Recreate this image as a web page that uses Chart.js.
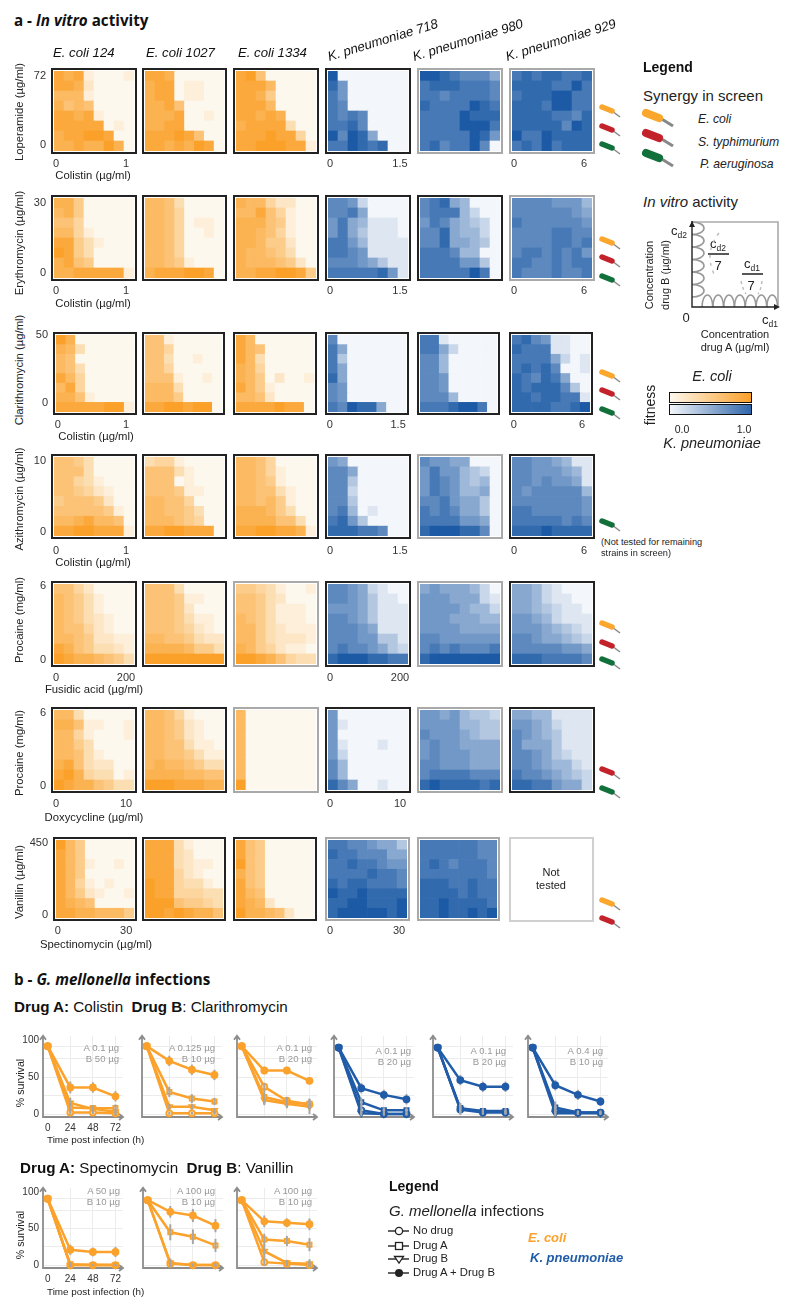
<!DOCTYPE html>
<html>
<head>
<meta charset="utf-8">
<title>In vitro activity and G. mellonella infections</title>
<script src="https://cdn.jsdelivr.net/npm/chart.js@4/dist/chart.umd.min.js"></script>
<style>
html, body { margin: 0; padding: 0; background: #fff; }
#page { position: relative; width: 800px; height: 1311px; overflow: hidden; font-family: "Liberation Sans", Arial, sans-serif; color: #222; }
#page canvas { position: absolute; }
#page svg { position: absolute; left: 0; top: 0; }
.t { position: absolute; white-space: nowrap; line-height: 1; }
sub { font-size: 8.5px; line-height: 0; }
</style>
</head>
<body>
<div id="page"></div>
<script>
// fitness x 10, top row of every grid first, columns left to right
const lopEc124 = [[9,8,9,1,0,0,0,1],[9,9,8,2,0,0,0,0],[7,7,7,1,0,0,0,0],[8,6,7,6,0,0,0,0],[9,9,8,9,1,0,0,0],[9,9,9,9,9,0,1,0],[8,9,9,10,10,9,0,0],[8,8,9,8,8,10,8,0]];
const lopEc1027 = [[9,9,8,0,0,0,0,0],[8,9,9,0,1,1,0,0],[8,9,9,0,1,1,0,0],[8,8,9,6,0,0,0,0],[8,8,8,9,0,0,1,0],[8,8,9,9,0,0,0,0],[9,9,9,10,9,6,0,0],[9,9,8,9,8,10,9,0]];
const lopEc1334 = [[9,10,6,0,0,0,0,0],[9,9,9,7,0,0,0,0],[9,9,8,5,0,0,0,0],[9,9,9,7,0,0,0,0],[9,9,8,9,8,0,0,0],[8,9,9,9,9,3,0,0],[9,9,9,10,9,9,4,0],[9,9,10,10,10,9,9,1]];
const lopKp718 = [[10,0,0,0,0,0,0,0],[9,6,0,0,0,0,0,0],[8,6,0,0,0,0,0,0],[8,7,0,0,0,0,0,0],[8,7,8,7,0,0,0,0],[8,8,9,7,0,0,0,0],[10,7,10,9,5,0,0,0],[8,8,10,9,8,9,0,0]];
const lopKp980 = [[10,10,9,8,7,7,7,5],[8,9,9,9,8,8,8,7],[8,8,7,8,8,8,8,7],[9,8,8,8,8,10,9,8],[8,8,8,8,10,9,9,9],[8,8,8,8,10,10,10,8],[8,8,8,8,8,10,9,6],[8,9,7,8,8,10,7,0]];
const lopKp929 = [[8,9,8,9,9,8,8,9],[9,9,9,9,8,8,10,8],[8,9,9,9,10,10,8,8],[9,9,9,8,10,10,8,8],[9,9,9,9,8,8,7,9],[9,9,9,9,9,7,10,9],[10,8,8,10,9,9,9,9],[8,9,8,10,8,9,9,9]];

const eryEc124 = [[8,8,5,0,0,0,0,0],[7,8,5,0,0,0,0,0],[6,6,4,0,0,0,0,0],[7,7,4,1,0,0,0,0],[9,9,5,3,1,0,0,0],[10,9,5,3,0,0,0,0],[8,9,6,5,0,0,0,0],[8,8,9,9,9,9,9,1]];
const eryEc1027 = [[7,7,6,3,0,0,0,0],[7,7,6,4,0,0,0,0],[7,7,6,4,0,1,1,0],[7,7,6,4,0,0,1,0],[7,7,6,4,0,0,0,0],[7,7,6,4,0,0,0,0],[7,7,6,5,1,0,0,0],[8,9,9,9,10,10,9,0]];
const eryEc1334 = [[8,7,7,4,2,2,0,0],[7,7,9,6,4,1,0,0],[8,8,8,6,5,1,0,0],[8,8,7,6,4,1,0,0],[8,8,7,5,5,2,0,0],[8,7,7,6,5,3,0,0],[8,7,7,7,6,5,2,0],[8,8,9,9,10,10,9,5]];
const eryKp718 = [[7,7,6,2,0,0,0,0],[7,7,8,5,0,0,0,0],[6,8,5,4,1,1,1,0],[6,8,5,3,1,1,1,0],[8,8,6,4,1,1,1,1],[8,8,7,6,1,1,1,1],[7,7,7,6,5,3,1,1],[8,8,8,8,8,9,6,1]];
const eryKp980 = [[7,8,9,5,4,0,0,0],[7,8,8,8,4,2,0,0],[6,8,7,5,4,3,2,0],[7,7,9,5,4,4,2,0],[7,7,9,5,5,4,3,0],[8,8,8,7,4,4,0,0],[8,8,8,8,6,6,3,0],[8,8,8,8,8,10,8,0]];
const eryKp929 = [[7,7,7,7,6,6,6,4],[7,7,7,7,7,7,6,5],[8,7,7,7,7,7,7,6],[7,7,7,7,8,8,7,7],[7,7,7,7,8,8,7,8],[7,8,8,7,8,7,8,6],[8,8,7,7,8,7,8,8],[8,7,7,7,8,7,7,8]];

const claEc124 = [[10,8,0,0,0,0,0,0],[8,7,3,0,0,0,0,0],[7,6,0,0,0,0,0,0],[7,6,3,0,0,0,0,0],[9,7,4,0,0,0,0,0],[7,9,4,0,0,0,0,0],[8,8,6,1,0,0,0,0],[9,9,9,9,9,10,10,1]];
const claEc1027 = [[6,6,1,0,0,0,0,0],[6,6,4,0,0,0,0,0],[6,6,3,0,0,1,0,0],[6,6,4,0,0,0,0,0],[6,6,6,1,0,0,1,0],[7,7,7,3,0,0,0,0],[7,7,7,5,0,0,0,0],[9,9,10,10,9,10,10,0]];
const claEc1334 = [[9,7,0,0,0,0,0,0],[9,7,6,0,0,0,0,0],[9,7,3,0,0,0,0,0],[8,7,4,0,0,0,0,0],[8,7,5,0,2,0,0,1],[9,7,5,1,0,0,0,0],[7,7,6,2,0,0,0,0],[9,9,9,9,10,9,9,0]];
const claKp718 = [[7,0,0,0,0,0,0,0],[8,5,0,0,0,0,0,0],[8,3,0,0,0,0,0,0],[8,5,0,0,0,0,0,0],[9,5,0,0,0,0,0,0],[7,6,0,0,0,0,0,0],[7,6,0,0,0,0,0,0],[8,7,10,9,9,5,0,0]];
const claKp980 = [[8,8,1,0,0,0,0,0],[8,8,5,2,0,0,0,0],[7,7,4,0,0,0,0,0],[7,7,4,0,0,0,0,0],[7,7,6,0,0,0,0,0],[7,7,6,0,0,0,0,0],[7,7,7,4,0,0,0,0],[8,8,8,9,10,10,8,0]];
const claKp929 = [[8,9,7,6,1,1,0,0],[9,8,8,8,1,1,0,0],[8,8,8,8,5,2,0,1],[8,9,8,9,7,0,0,1],[9,8,7,9,8,5,0,0],[9,8,9,9,9,7,3,0],[9,9,8,9,9,8,8,1],[9,9,9,9,8,8,9,10]];

const aziEc124 = [[6,6,5,3,0,0,0,0],[6,6,6,3,0,0,0,0],[6,6,4,3,1,0,0,0],[6,6,5,4,2,1,0,0],[5,6,6,6,5,2,0,0],[6,6,6,6,6,5,1,0],[7,7,8,9,7,7,6,0],[9,9,10,10,9,9,9,1]];
const aziEc1027 = [[3,4,4,1,0,0,0,0],[6,6,6,3,1,0,0,0],[6,6,6,0,1,0,0,0],[6,6,6,5,1,1,0,0],[7,7,6,6,4,0,0,0],[7,7,6,6,5,3,0,0],[7,7,7,6,5,4,0,0],[9,9,10,10,9,9,9,0]];
const aziEc1334 = [[7,7,6,4,0,0,0,0],[7,7,6,4,1,0,0,0],[7,7,6,5,1,0,0,0],[7,7,6,6,3,1,0,0],[7,7,6,7,5,1,0,0],[8,8,8,7,5,3,0,0],[8,8,8,8,6,6,3,0],[9,9,10,10,9,9,8,1]];
const aziKp718 = [[6,5,0,0,0,0,0,0],[7,7,5,0,0,0,0,0],[7,7,3,0,0,0,0,0],[7,7,2,0,0,0,0,0],[7,7,3,0,0,0,0,0],[7,8,4,0,1,0,0,0],[8,9,6,3,0,0,0,0],[9,9,9,8,8,7,0,0]];
const aziKp980 = [[7,6,6,5,5,0,0,0],[6,8,6,6,4,3,2,0],[6,8,7,6,4,3,4,0],[6,8,7,6,4,4,5,0],[7,7,8,6,5,5,3,0],[8,7,8,7,5,5,3,0],[8,8,8,8,6,6,5,0],[9,10,10,10,9,9,7,0]];
const aziKp929 = [[7,7,6,6,5,4,1,1],[7,7,6,6,6,5,4,1],[7,7,6,7,6,6,5,1],[7,6,7,7,7,7,7,4],[7,7,7,7,7,7,7,6],[8,8,7,7,7,7,7,6],[8,8,8,8,8,7,8,7],[9,9,9,10,9,9,9,9]];

const fusEc124 = [[6,6,4,2,0,0,0,0],[7,6,5,3,1,0,0,0],[7,6,5,3,1,0,0,0],[7,6,5,3,2,1,0,0],[7,6,6,4,2,1,0,0],[7,7,6,5,2,2,1,1],[9,8,6,5,3,3,2,1],[10,9,8,8,7,6,5,3]];
const fusEc1027 = [[6,6,6,3,0,0,0,0],[6,6,6,5,1,1,0,0],[6,6,6,5,2,0,0,0],[6,6,6,5,3,1,1,0],[6,6,6,5,4,2,1,0],[7,7,6,6,5,3,2,2],[8,8,8,8,7,5,5,3],[10,10,10,10,10,10,10,10]];
const fusEc1334 = [[5,5,4,3,1,0,0,1],[6,6,5,3,2,0,0,0],[6,6,5,3,1,1,1,0],[7,6,5,3,1,1,1,0],[7,7,5,3,2,1,1,1],[7,7,5,3,2,2,2,1],[8,7,5,4,2,1,1,0],[10,10,9,8,6,4,3,3]];
const fusKp718 = [[7,7,6,5,2,1,0,0],[7,7,6,5,3,1,1,0],[6,6,6,5,3,1,1,1],[7,7,6,5,3,1,1,1],[7,7,7,6,5,1,1,1],[7,7,7,6,6,3,3,1],[7,8,7,7,6,5,3,2],[9,10,10,10,9,9,8,8]];
const fusKp980 = [[5,6,5,5,5,4,2,0],[6,6,6,5,5,5,2,1],[6,6,6,6,5,4,4,2],[6,6,6,5,5,5,4,4],[6,6,6,6,5,5,5,5],[7,7,6,6,6,6,6,6],[7,8,7,8,7,7,7,8],[9,10,10,10,10,10,10,10]];
const fusKp929 = [[5,5,4,2,1,0,0,0],[5,5,4,2,1,1,0,0],[5,5,4,3,2,1,1,0],[6,6,5,4,2,1,1,1],[6,6,6,5,4,3,2,1],[7,7,6,5,5,4,3,2],[7,7,7,7,7,6,6,5],[9,9,9,8,8,8,8,7]];

const doxEc124 = [[7,7,3,0,0,0,0,0],[8,8,6,1,1,0,0,1],[7,7,4,1,0,0,0,1],[7,7,5,3,0,0,0,0],[7,7,6,3,1,0,0,0],[8,9,6,3,2,2,0,0],[9,10,8,4,3,3,0,1],[10,9,8,8,6,5,3,3]];
const doxEc1027 = [[7,7,6,4,1,0,0,0],[7,7,6,5,2,1,0,0],[7,7,6,5,2,1,0,0],[7,7,6,6,3,1,1,0],[7,7,6,6,5,3,1,1],[7,8,7,7,6,5,3,3],[8,8,8,8,7,7,6,6],[10,10,10,9,9,9,8,8]];
const doxEc1334 = [[7,0,0,0,0,0,0,0],[7,0,0,0,0,0,0,0],[7,0,0,0,0,0,0,0],[7,0,0,0,0,0,0,0],[7,0,0,0,0,0,0,0],[7,0,0,0,0,0,0,0],[7,0,0,0,0,0,0,0],[10,0,0,0,0,0,0,0]];
const doxKp718 = [[6,0,0,0,0,0,0,0],[6,1,0,0,0,0,0,0],[6,0,0,0,0,0,0,0],[6,1,0,0,0,1,0,0],[6,2,0,0,0,0,0,0],[7,4,0,0,0,0,0,0],[7,4,0,0,0,0,0,0],[9,7,5,0,0,1,0,0]];
const doxKp980 = [[6,6,5,6,4,3,3,2],[6,6,6,6,4,4,3,3],[7,6,6,6,5,4,3,3],[6,7,6,6,5,5,5,5],[6,7,6,6,6,5,5,5],[7,7,6,6,6,5,5,5],[7,8,8,8,8,7,7,7],[9,10,9,9,9,9,8,9]];
const doxKp929 = [[5,5,4,4,1,1,1,1],[6,6,5,4,2,1,1,1],[7,6,5,4,3,1,1,1],[7,5,5,5,3,1,1,1],[7,7,6,5,3,2,1,1],[7,7,6,5,4,4,2,1],[8,7,7,6,5,4,3,2],[9,9,8,8,6,5,5,2]];

const vanEc124 = [[10,7,5,0,0,0,0,0],[9,7,5,0,0,0,0,0],[9,7,5,1,0,0,1,0],[9,7,5,0,0,0,0,0],[9,7,4,1,0,1,0,0],[9,7,5,2,1,0,0,1],[9,8,7,6,0,0,0,0],[9,9,8,8,7,7,7,5]];
const vanEc1027 = [[9,9,9,3,1,0,0,0],[9,9,9,3,2,0,0,0],[9,9,9,3,2,1,1,0],[9,9,9,4,2,1,0,0],[10,9,9,4,3,3,1,0],[10,9,9,4,4,4,3,3],[10,10,10,6,5,5,4,3],[10,10,9,10,9,8,8,6]];
const vanEc1334 = [[9,6,5,0,0,0,0,0],[9,6,5,0,0,0,0,0],[10,6,5,0,0,0,0,0],[8,6,5,0,0,0,0,0],[9,6,5,0,0,0,0,0],[9,7,6,0,0,0,0,0],[9,8,7,2,0,0,0,0],[10,8,8,7,6,2,0,0]];
const vanKp718 = [[8,8,7,7,6,5,5,3],[9,8,8,7,7,7,5,5],[8,8,9,8,8,7,6,6],[8,8,8,8,9,8,8,7],[9,8,9,9,8,8,8,7],[10,9,9,10,9,9,9,9],[9,9,10,10,9,9,9,10],[9,10,10,10,10,10,9,10]];
const vanKp980 = [[8,8,8,8,8,8,7,7],[8,8,8,8,8,8,7,7],[8,9,8,7,8,8,8,7],[8,8,8,8,8,8,8,7],[9,9,9,8,8,9,8,8],[9,9,9,9,8,9,8,8],[9,9,10,9,9,9,9,8],[9,9,10,9,9,10,9,10]];

// survival curves, series order: no drug, drug A, drug B, drug A + drug B
const timePoints = [0, 24, 48, 72];
const seriesNames = ['No drug', 'Drug A', 'Drug B', 'Drug A + Drug B'];
const surv1 = [[92,2,2,1],[92,9,8,8],[92,15,7,3],[92,36,36,24]];
const err1 = [[0,3,2,2],[0,7,4,5],[0,7,4,5],[0,8,7,7]];
const surv2 = [[92,1,1,1],[92,30,21,17],[92,10,10,5],[92,72,60,53]];
const err2 = [[0,2,2,2],[0,7,6,5],[0,4,4,3],[0,7,7,7]];
const surv3 = [[92,37,18,13],[92,23,16,14],[92,19,14,10],[92,59,59,45]];
const err3 = [[0,5,5,6],[0,9,7,7],[0,7,6,10],[0,5,5,4]];
const surv4 = [[90,5,0,0],[90,16,5,5],[90,1,0,0],[90,35,26,20]];
const err4 = [[0,6,2,2],[0,6,4,4],[0,4,2,2],[0,7,7,7]];
const surv5 = [[90,6,2,2],[90,8,4,4],[90,7,3,3],[90,46,37,37]];
const err5 = [[0,7,3,3],[0,7,4,4],[0,7,3,3],[0,7,7,7]];
const surv6 = [[90,5,2,2],[90,9,2,2],[90,1,1,1],[90,39,26,17]];
const err6 = [[0,8,2,2],[0,8,3,3],[0,6,2,2],[0,7,7,6]];
const surv7 = [[91,0,0,0],[91,1,0,0],[91,0,0,0],[91,21,18,18]];
const err7 = [[0,2,1,1],[0,3,1,1],[0,3,1,1],[0,7,6,7]];
const surv8 = [[89,2,0,0],[89,45,39,27],[89,3,0,0],[89,73,68,54]];
const err8 = [[0,6,2,2],[0,11,10,9],[0,6,2,2],[0,8,9,9]];
const surv9 = [[89,4,2,0],[89,35,33,28],[89,19,3,2],[89,60,58,56]];
const err9 = [[0,5,3,6],[0,8,7,9],[0,10,4,6],[0,8,6,8]];

const orange = '#fba22c';
const blue = '#205ca8';
const page = document.getElementById('page');
const FONT = '"Liberation Sans", Arial, sans-serif';

function mix(a, b, f) {
    return 'rgb(' + a.map((v, i) => Math.round(v + (b[i] - v) * f)).join(',') + ')';
}
const orangeCell = v => mix([253, 248, 238], [251, 160, 40], v / 10);
const blueCell = v => mix([243, 246, 250], [28, 90, 166], v / 10);

function txt(x, y, html, css) {
    const el = document.createElement('div');
    el.className = 't';
    el.innerHTML = html;
    el.style.cssText = 'left:' + x + 'px;top:' + y + 'px;transform:translateY(-50%);font-size:11.3px;' + (css || '');
    page.appendChild(el);
    return el;
}
function txtRot(x, y, html, css) {
    return txt(x, y, html, 'transform:translate(-50%,-50%) rotate(-90deg);' + (css || ''));
}
function txtMid(x, y, html, css) {
    return txt(x, y, html, 'transform:translate(-50%,-50%);' + (css || ''));
}

// keep the plot area at the size asked for, whatever the tick labels want
function fixWidth(s, w) { s.width = w; s.paddingLeft = s.paddingRight = s.paddingTop = s.paddingBottom = 0; }
function fixHeight(s, h) { s.height = h; s.paddingLeft = s.paddingRight = s.paddingTop = s.paddingBottom = 0; }

const framePlugin = {
    id: 'frame',
    afterDraw(chart, args, opts) {
        const a = chart.chartArea, c = chart.ctx;
        c.save();
        c.strokeStyle = opts.color;
        c.lineWidth = 2;
        c.strokeRect(a.left - 2, a.top - 2, a.right - a.left + 4, a.bottom - a.top + 4);
        c.restore();
    }
};

// one heat grid, stacked bars with one dataset per row
function heat(box, top, bottom, grid, cell, frame, xEnd, labelOffset, xPad, yLabels, yAt) {
    const YW = 30, XH = 20, PT = 8;
    const cv = document.createElement('canvas');
    const w = box[1] - box[0] - 6, h = bottom - top - 6;
    cv.width = YW + w + 3;
    cv.height = PT + h + XH;
    cv.style.left = (box[0] + 3 - YW) + 'px';
    cv.style.top = (top + 3 - PT) + 'px';
    page.appendChild(cv);

    const rows = grid.slice().reverse();
    const xLabels = ['', '', '', '', '', '', '', ''];
    if (xEnd) { xLabels[0] = '0'; xLabels[7] = xEnd; }

    new Chart(cv, {
        type: 'bar',
        data: {
            labels: xLabels,
            datasets: rows.map(r => ({
                data: r.map(() => 1),
                backgroundColor: r.map(cell),
                barPercentage: 1,
                categoryPercentage: 1,
                borderWidth: 0
            }))
        },
        options: {
            responsive: false,
            animation: false,
            layout: { padding: { top: PT, right: 3, left: 0, bottom: 0 } },
            plugins: { legend: { display: false }, tooltip: { enabled: false }, frame: { color: frame } },
            scales: {
                x: {
                    stacked: true,
                    grid: { display: false, drawTicks: false },
                    border: { display: false },
                    ticks: { autoSkip: false, maxRotation: 0, padding: xPad, labelOffset: labelOffset, color: '#333', font: { family: FONT, size: 11 } },
                    afterFit: s => fixHeight(s, XH)
                },
                y: {
                    stacked: true,
                    min: 0,
                    max: 8,
                    grid: { display: false, drawTicks: false },
                    border: { display: false },
                    afterBuildTicks: s => { s.ticks = yAt.map(v => ({ value: v })); },
                    ticks: {
                        padding: 8,
                        color: '#333',
                        font: { family: FONT, size: 11 },
                        callback: (v, i) => (yLabels ? yLabels[i] : '')
                    },
                    afterFit: s => fixWidth(s, YW)
                }
            }
        },
        plugins: [framePlugin]
    });
}

const K = '#222', G = '#a9a9a9';
const colsWide = [[51, 137], [142, 227], [233, 319], [325, 411], [417, 503], [509, 595]];
const colsRow3 = [[53, 137], [142, 225], [233, 317], [325, 409], [417, 500], [509, 593]];
const colsRow7 = [[53, 137], [142, 226], [233, 317], [325, 410], [417, 500], [509, 593]];

const heatRows = [
    { top: 68, bottom: 154, cols: colsWide, grids: [lopEc124, lopEc1027, lopEc1334, lopKp718, lopKp980, lopKp929], frames: [K, K, K, K, G, G], xEnds: ['1', '', '', '1.5', '', '6'], xPad: 6, yTop: '72', yAt: [7.5, 0.6] },
    { top: 195, bottom: 281, cols: colsWide, grids: [eryEc124, eryEc1027, eryEc1334, eryKp718, eryKp980, eryKp929], frames: [K, K, K, K, K, G], xEnds: ['1', '', '', '1.5', '', '6'], xPad: 6, yTop: '30', yAt: [7.5, 0.5] },
    { top: 332, bottom: 415, cols: colsRow3, grids: [claEc124, claEc1027, claEc1334, claKp718, claKp980, claKp929], frames: [K, K, K, K, K, K], xEnds: ['1', '', '', '1.5', '', '6'], xPad: 6, yTop: '50', yAt: [8, 0.9] },
    { top: 454, bottom: 539, cols: colsWide, grids: [aziEc124, aziEc1027, aziEc1334, aziKp718, aziKp980, aziKp929], frames: [K, K, K, K, G, K], xEnds: ['1', '', '', '1.5', '', '6'], xPad: 8, yTop: '10', yAt: [7.6, 0.4] },
    { top: 581, bottom: 667, cols: colsWide, grids: [fusEc124, fusEc1027, fusEc1334, fusKp718, fusKp980, fusKp929], frames: [K, K, G, K, G, K], xEnds: ['200', '', '', '200', '', ''], xPad: 7, yTop: '6', yAt: [7.8, 0.4] },
    { top: 707, bottom: 793, cols: colsWide, grids: [doxEc124, doxEc1027, doxEc1334, doxKp718, doxKp980, doxKp929], frames: [K, K, G, K, G, K], xEnds: ['10', '', '', '10', '', ''], xPad: 7, yTop: '6', yAt: [7.7, 0.4] },
    { top: 837, bottom: 921, cols: colsRow7, grids: [vanEc124, vanEc1027, vanEc1334, vanKp718, vanKp980, null], frames: [K, K, K, G, G, null], xEnds: ['30', '', '', '30', '', ''], xPad: 6, yTop: '450', yAt: [7.7, 0.3] }
];

heatRows.forEach(row => {
    row.grids.forEach((grid, i) => {
        if (!grid) return;
        heat(row.cols[i], row.top, row.bottom, grid, i < 3 ? orangeCell : blueCell, row.frames[i],
            row.xEnds[i], -3, row.xPad, i === 0 ? [row.yTop, '0'] : null, row.yAt);
    });
});

// survival panels
const arrowPlugin = {
    id: 'arrows',
    beforeDatasetsDraw(chart) {
        const a = chart.chartArea, c = chart.ctx;
        c.save();
        c.strokeStyle = '#8c8c8c';
        c.lineWidth = 1.8;
        c.beginPath();
        c.moveTo(a.left, a.top);
        c.lineTo(a.left, a.bottom);
        c.lineTo(a.right, a.bottom);
        c.moveTo(a.left - 3, a.top + 4);
        c.lineTo(a.left, a.top);
        c.lineTo(a.left + 3, a.top + 4);
        c.moveTo(a.right - 4, a.bottom - 3);
        c.lineTo(a.right, a.bottom);
        c.lineTo(a.right - 4, a.bottom + 3);
        c.stroke();
        c.restore();
    }
};

function drawErr(chart, wanted) {
    const c = chart.ctx;
    c.save();
    c.strokeStyle = '#a6a6a6';
    c.lineWidth = 2;
    chart.data.datasets.forEach((d, i) => {
        if ((i === 3) !== wanted) return;
        d.data.forEach((p, j) => {
            if (!d.err[j]) return;
            const x = chart.scales.x.getPixelForValue(p.x);
            c.beginPath();
            c.moveTo(x, chart.scales.y.getPixelForValue(Math.max(p.y - d.err[j], -3)));
            c.lineTo(x, chart.scales.y.getPixelForValue(p.y + d.err[j]));
            c.stroke();
        });
    });
    c.restore();
}
const errPlugin = {
    id: 'errs',
    beforeDatasetsDraw(chart) { drawErr(chart, true); },
    afterDatasetsDraw(chart) { drawErr(chart, false); }
};

function curves(left, top, bottom, surv, err, color, pale, first) {
    const YW = 28, XH = 18, PW = 80;
    const cv = document.createElement('canvas');
    cv.width = YW + PW + 6;
    cv.height = 3 + (bottom - top) + XH;
    cv.style.left = (left - YW) + 'px';
    cv.style.top = (top - 3) + 'px';
    page.appendChild(cv);

    const styles = ['circle', 'rect', 'triangle', 'circle'];
    new Chart(cv, {
        type: 'scatter',
        data: {
            datasets: surv.map((vals, i) => ({
                label: seriesNames[i],
                data: vals.map((y, j) => ({ x: timePoints[j], y: y })),
                err: err[i],
                order: 3 - i,
                showLine: true,
                clip: false,
                borderColor: color,
                borderWidth: 2.5,
                pointStyle: styles[i],
                pointRotation: i === 2 ? 180 : 0,
                pointRadius: 3,
                pointBorderColor: color,
                pointBorderWidth: 1.8,
                pointBackgroundColor: i === 3 ? color : pale
            }))
        },
        options: {
            responsive: false,
            animation: false,
            layout: { padding: { top: 3, right: 6, left: 0, bottom: 0 } },
            plugins: { legend: { display: false }, tooltip: { enabled: false } },
            scales: {
                x: {
                    type: 'linear',
                    min: -5,
                    max: 80,
                    grid: { color: ctx => (ctx.tick.value === 0 ? 'transparent' : '#ececec'), drawTicks: false },
                    border: { display: false },
                    afterBuildTicks: s => { s.ticks = timePoints.map(v => ({ value: v })); },
                    ticks: { padding: 5, color: '#333', font: { family: FONT, size: 10 }, maxRotation: 0, callback: v => (first ? String(v) : '') },
                    afterFit: s => fixHeight(s, XH)
                },
                y: {
                    min: -4,
                    max: 106,
                    grid: { color: ctx => (ctx.tick.value === 100 ? 'transparent' : '#ececec'), drawTicks: false },
                    border: { display: false },
                    afterBuildTicks: s => { s.ticks = [0, 25, 50, 75, 92, 100].map(v => ({ value: v })); },
                    ticks: { padding: 4, color: '#333', font: { family: FONT, size: 10 }, callback: v => (first && v % 50 === 0 ? String(v) : '') },
                    afterFit: s => fixWidth(s, YW)
                }
            }
        },
        plugins: [arrowPlugin, errPlugin]
    });
}

const paleO = '#fde3b8', paleB = '#cfdcee';
curves(43, 1033, 1117, surv1, err1, orange, paleO, true);
curves(142, 1033, 1117, surv2, err2, orange, paleO, false);
curves(237, 1033, 1117, surv3, err3, orange, paleO, false);
curves(334, 1033, 1117, surv4, err4, blue, paleB, false);
curves(433, 1033, 1117, surv5, err5, blue, paleB, false);
curves(528, 1033, 1117, surv6, err6, blue, paleB, false);
curves(43, 1185, 1268, surv7, err7, orange, paleO, true);
curves(143, 1185, 1268, surv8, err8, orange, paleO, false);
curves(237, 1185, 1268, surv9, err9, orange, paleO, false);

// annotation text
const doseNotes = [
    [119, 1048, 'A 0.1 µg', 'B 50 µg'], [215, 1048, 'A 0.125 µg', 'B 10 µg'], [312, 1048, 'A 0.1 µg', 'B 20 µg'],
    [411, 1051, 'A 0.1 µg', 'B 20 µg'], [506, 1051, 'A 0.1 µg', 'B 20 µg'], [603, 1051, 'A 0.4 µg', 'B 10 µg'],
    [120, 1191, 'A 50 µg', 'B 10 µg'], [215, 1191, 'A 100 µg', 'B 10 µg'], [312, 1191, 'A 100 µg', 'B 10 µg']
];
doseNotes.forEach(n => {
    txt(n[0], n[1], n[2], 'transform:translate(-100%,-50%);font-size:9.6px;color:#999;');
    txt(n[0], n[1] + 11, n[3], 'transform:translate(-100%,-50%);font-size:9.6px;color:#999;');
});

txt(14, 21, 'a - <i>In vitro</i> activity', 'font-family:\'Open Sans\';font-weight:700;font-size:15.2px;color:#111;');
txt(14, 980, 'b - <i>G. mellonella</i> infections', 'font-family:\'Open Sans\';font-weight:700;font-size:15.2px;color:#111;');
txt(14, 1007, '<b>Drug A:</b> Colistin &nbsp;<b>Drug B</b>: Clarithromycin', 'font-size:15.2px;color:#111;');
txt(20, 1168, '<b>Drug A:</b> Spectinomycin &nbsp;<b>Drug B</b>: Vanillin', 'font-size:15.2px;color:#111;');

txt(53, 53, 'E. coli 124', 'font-size:13.2px;font-style:italic;color:#111;');
txt(146, 53, 'E. coli 1027', 'font-size:13.2px;font-style:italic;color:#111;');
txt(238, 53, 'E. coli 1334', 'font-size:13.2px;font-style:italic;color:#111;');
[[330, 'K. pneumoniae 718'], [415, 'K. pneumoniae 980'], [508, 'K. pneumoniae 929']].forEach(h => {
    txt(h[0], 63, h[1], 'font-size:13.2px;font-style:italic;color:#111;transform-origin:0 100%;transform:translateY(-100%) rotate(-17deg);');
});

[[112, 'Loperamide (µg/ml)'], [243, 'Erythromycin (µg/ml)'], [370, 'Clarithromycin (µg/ml)'], [499, 'Azithromycin (µg/ml)'],
 [620, 'Procaine (mg/ml)'], [753, 'Procaine (mg/ml)'], [882, 'Vanillin (µg/ml)']].forEach(l => txtRot(20, l[0], l[1]));
[[93, 176, 'Colistin (µg/ml)'], [93, 304, 'Colistin (µg/ml)'], [96, 437, 'Colistin (µg/ml)'], [93, 563, 'Colistin (µg/ml)'],
 [94, 690, 'Fusidic acid (µg/ml)'], [94, 818, 'Doxycycline (µg/ml)'], [96, 945, 'Spectinomycin (µg/ml)']].forEach(l => txtMid(l[0], l[1], l[2]));

txt(601, 543, '(Not tested for remaining', 'font-size:9.2px;');
txt(601, 554, 'strains in screen)', 'font-size:9.2px;');

// not tested box
const empty = document.createElement('div');
empty.style.cssText = 'position:absolute;left:509px;top:837px;width:81px;height:81px;border:2px solid #d0d0d0;';
page.appendChild(empty);
txtMid(551, 872, 'Not', 'font-size:11px;');
txtMid(551, 885, 'tested', 'font-size:11px;');

txtRot(20, 1083, '% survival', 'font-size:10.6px;');
txtRot(20, 1235, '% survival', 'font-size:10.6px;');
txt(47, 1140, 'Time post infection (h)', 'font-size:9.9px;');
txt(47, 1292, 'Time post infection (h)', 'font-size:9.9px;');

// right hand legend
txt(643, 67, 'Legend', 'font-weight:700;font-size:14px;color:#111;');
txt(643, 95, 'Synergy in screen', 'font-size:15px;');
txt(698, 119, 'E. coli', 'font-size:12.2px;font-style:italic;');
txt(698, 142, 'S. typhimurium', 'font-size:12.2px;font-style:italic;');
txt(700, 164, 'P. aeruginosa', 'font-size:12.2px;font-style:italic;');
txt(643, 201, '<i>In vitro</i> activity', 'font-size:15px;');
txt(671, 230, 'c<sub>d2</sub>', 'font-size:13px;');
txtMid(718, 243, 'c<sub>d2</sub>', 'font-size:13px;');
txtMid(718, 265, '7', 'font-size:13px;');
txtMid(752, 263, 'c<sub>d1</sub>', 'font-size:13px;');
txtMid(751, 285, '7', 'font-size:13px;');
txtMid(686, 317, '0', 'font-size:13px;');
txt(762, 319, 'c<sub>d1</sub>', 'font-size:13px;');
txtMid(735, 334, 'Concentration', 'font-size:11px;');
txtMid(735, 347, 'drug A (µg/ml)', 'font-size:11px;');
txtRot(649, 275, 'Concentration', 'font-size:11px;');
txtRot(665, 275, 'drug B (µg/ml)', 'font-size:11px;');
txtMid(712, 376, 'E. coli', 'font-size:14.5px;font-style:italic;');
txtRot(650, 405, 'fitness', 'font-size:14px;');
txtMid(682, 429, '0.0', 'font-size:10.5px;');
txtMid(744, 429, '1.0', 'font-size:10.5px;');
txtMid(712, 443, 'K. pneumoniae', 'font-size:14.5px;font-style:italic;');

// colour scale bars
[[392, 'linear-gradient(90deg,#fdf8ee,#fba028)'], [404, 'linear-gradient(90deg,#f3f6fa,#2f66ab)']].forEach(b => {
    const el = document.createElement('div');
    el.style.cssText = 'position:absolute;left:669px;top:' + b[0] + 'px;width:81px;height:9px;border:1.3px solid #111;background:' + b[1];
    page.appendChild(el);
});

// bottom legend
txt(389, 1186, 'Legend', 'font-weight:700;font-size:14px;color:#111;');
txt(389, 1210, '<i>G. mellonella</i> infections', 'font-size:15px;');
[[1231, 'No drug'], [1246, 'Drug A'], [1259, 'Drug B'], [1273, 'Drug A + Drug B']].forEach(l => txt(413, l[0], l[1], 'font-size:11.3px;'));
txt(528, 1237, 'E. coli', 'font-size:13px;font-weight:700;font-style:italic;color:' + orange);
txt(530, 1257, 'K. pneumoniae', 'font-size:13px;font-weight:700;font-style:italic;color:' + blue);

// icons and the small schematic
function bug(y, col) {
    return '<path d="M612 ' + (y + 4) + ' L620 ' + (y + 10) + '" stroke="#888" stroke-width="1.5"/>' +
        '<path d="M602 ' + y + ' L612 ' + (y + 4) + '" stroke="' + col + '" stroke-width="5.5" stroke-linecap="round"/>';
}
function bigBug(y, col) {
    return '<path d="M660 ' + (y + 5) + ' L673 ' + (y + 13) + '" stroke="#888" stroke-width="3"/>' +
        '<path d="M646 ' + y + ' L659 ' + (y + 5) + '" stroke="' + col + '" stroke-width="8" stroke-linecap="round"/>';
}
const O = '#fba62c', R = '#c4222a', V = '#12703a';
let svg = '';
[[107, O], [126, R], [144, V], [239, O], [257, R], [276, V], [372, O], [390, R], [409, V], [521, V],
 [623, O], [642, R], [659, V], [769, R], [788, V], [900, O], [918, R]].forEach(b => { svg += bug(b[0], b[1]); });
svg += bigBug(113, O) + bigBug(133, R) + bigBug(153, V);

// schematic
svg += '<path d="M692 222 H778 V307" fill="none" stroke="#aaa" stroke-width="1.6"/>';
for (let i = 0; i < 6; i++) {
    const y0 = 222 + i * 12.5;
    svg += '<path d="M692 ' + y0 + ' A12 6.25 0 0 1 692 ' + (y0 + 12.5) + '" fill="none" stroke="#999" stroke-width="1.6"/>';
}
for (let i = 0; i < 7; i++) {
    const x0 = 702 + i * 10.8;
    svg += '<path d="M' + x0 + ' 307 A5.4 12 0 0 1 ' + (x0 + 10.8) + ' 307" fill="none" stroke="#999" stroke-width="1.6"/>';
}
svg += '<path d="M692 221 V307 H778" fill="none" stroke="#222" stroke-width="1.4"/>';
svg += '<path d="M692 221 l-3 6 h6 z M780 307 l-6 -3 v6 z" fill="#222"/>';
svg += '<path d="M708 254 H729 M742 274 H763" stroke="#222" stroke-width="1.3"/>';
svg += '<path d="M719 233 Q704 252 714 274" fill="none" stroke="#bbb" stroke-width="1.4" stroke-dasharray="3 5"/>';
svg += '<path d="M741 281 Q743 290 746 294 M762 281 Q761 290 758 294" fill="none" stroke="#bbb" stroke-width="1.4" stroke-dasharray="3 3"/>';

// survival legend symbols
[1231, 1246, 1259, 1273].forEach(y => {
    svg += '<path d="M388 ' + y + ' H409" stroke="#222" stroke-width="1.4"/>';
});
svg += '<circle cx="399" cy="1231" r="3.6" fill="#fff" stroke="#222" stroke-width="1.3"/>';
svg += '<rect x="395.5" y="1242.5" width="7" height="7" fill="#fff" stroke="#222" stroke-width="1.3"/>';
svg += '<path d="M394.5 1256.5 H403.5 L399 1263 Z" fill="#fff" stroke="#222" stroke-width="1.3"/>';
svg += '<circle cx="399" cy="1273" r="4" fill="#222"/>';

const holder = document.createElement('div');
holder.innerHTML = '<svg width="800" height="1311" xmlns="http://www.w3.org/2000/svg">' + svg + '</svg>';
page.appendChild(holder.firstChild);
</script>
</body>
</html>
